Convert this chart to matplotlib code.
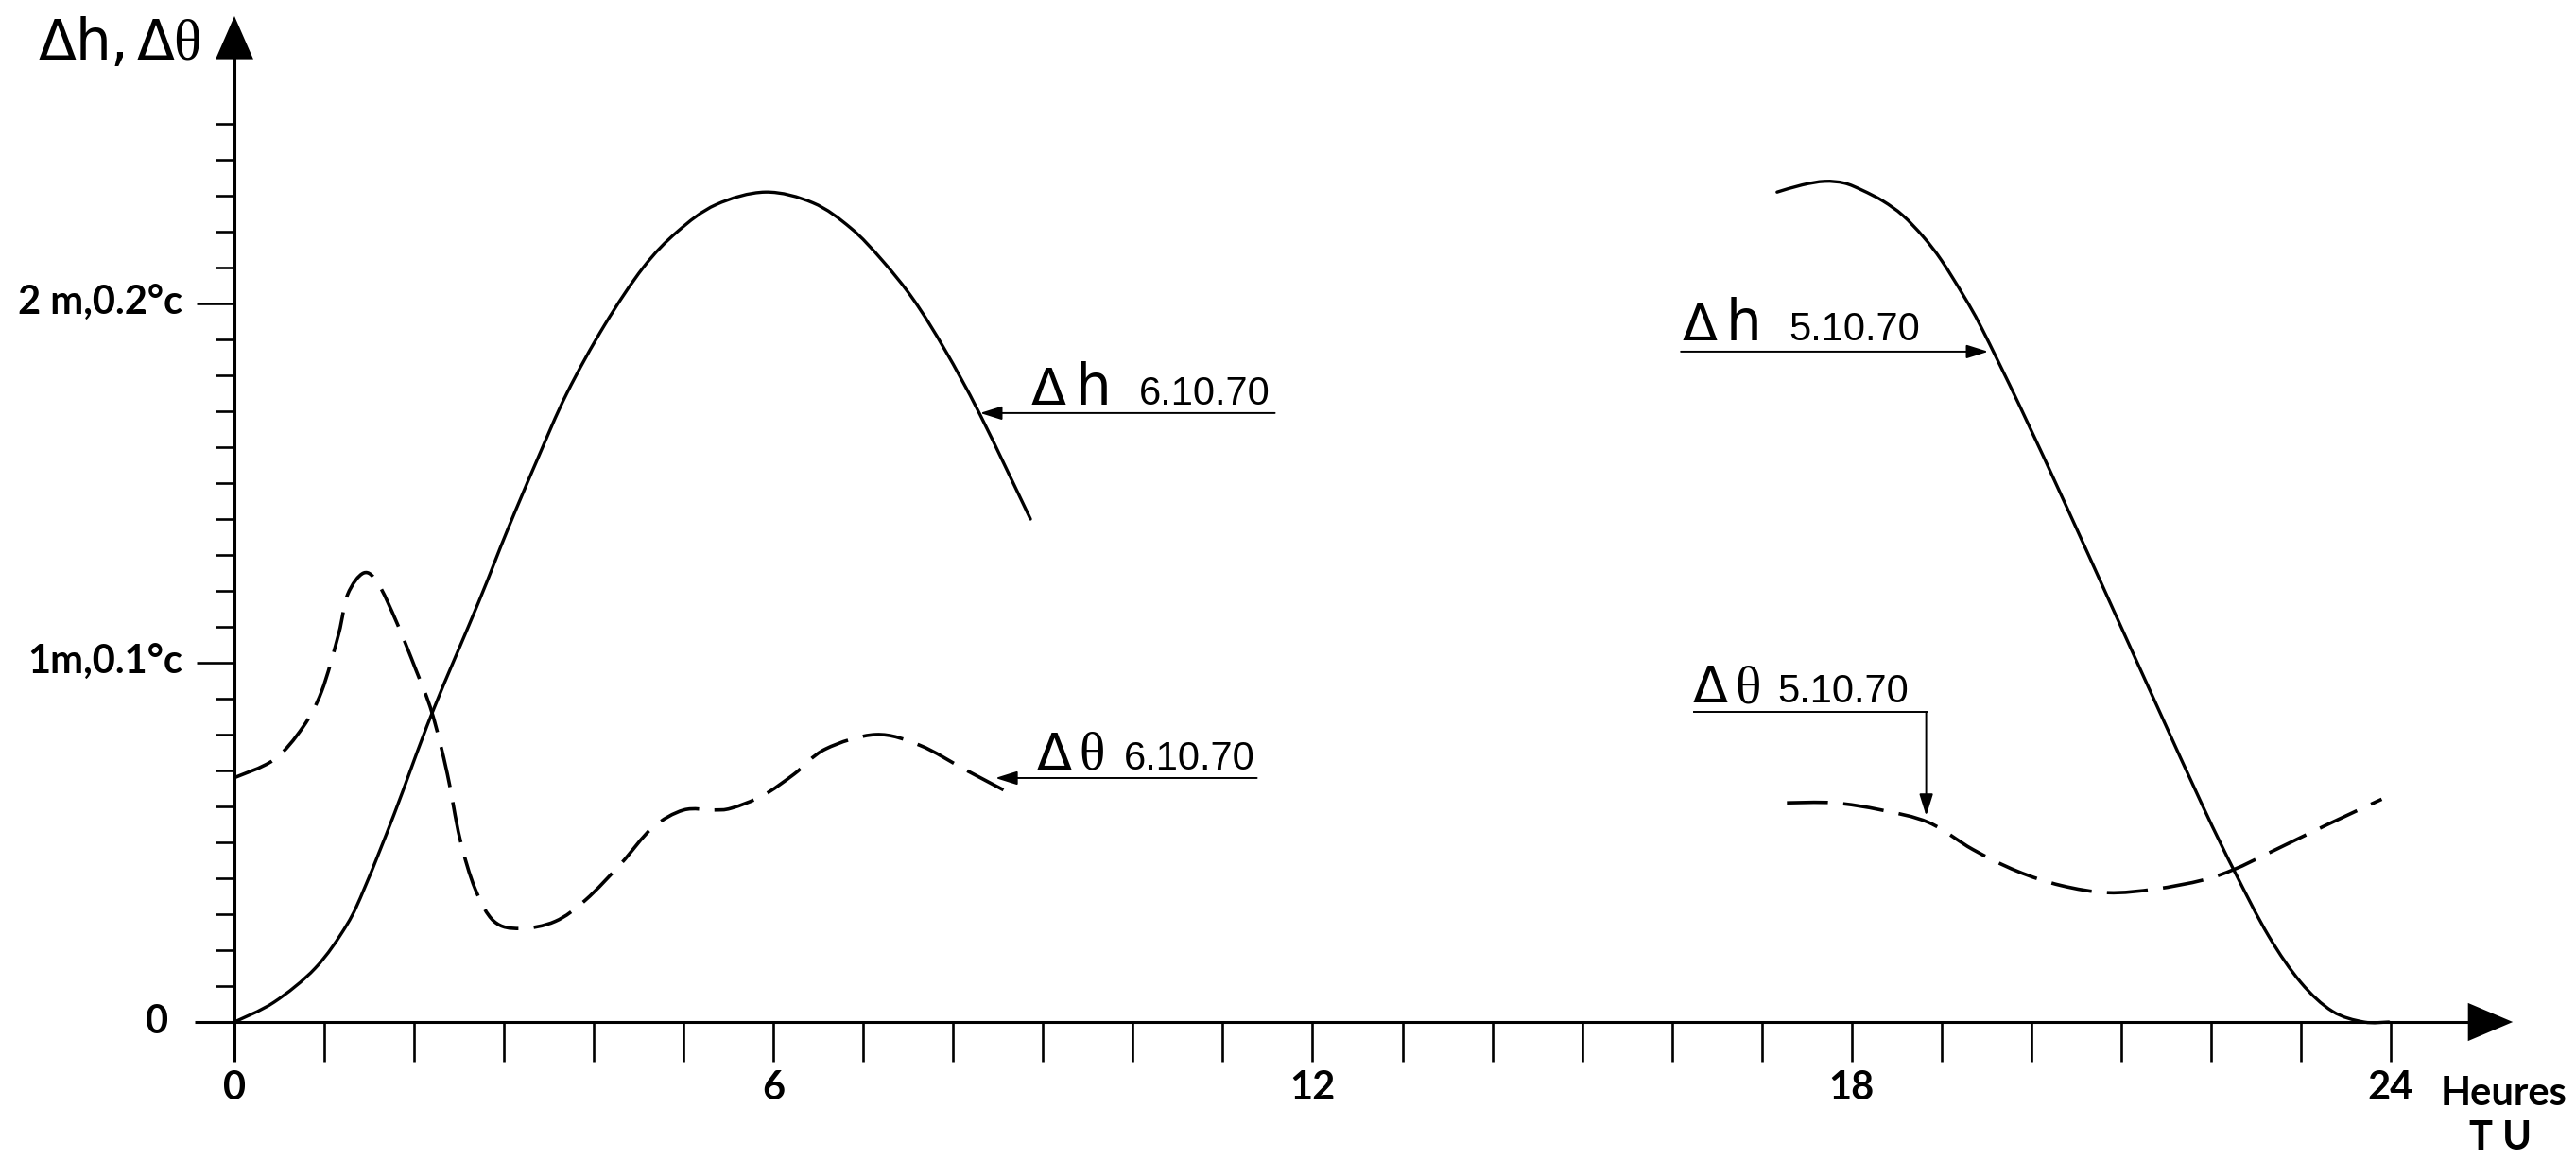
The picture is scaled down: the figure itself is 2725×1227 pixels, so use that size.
"""
Diurnal variation of water level (Δh) and temperature (Δθ), 5 and 6 Oct 1970.
Hours UT on x; one vertical unit = 1 m for Δh and 0.1 °C for Δθ.
"""
import numpy as np
import matplotlib.pyplot as plt
from matplotlib.path import Path
from matplotlib.patches import PathPatch

# ── data ──────────────────────────────────────────────────────────────────────
# Δh, 6.10.70
dh_0610_t = [0.0, 0.44, 0.90, 1.25, 1.46, 1.78, 2.20, 2.72, 3.04, 3.37, 3.70, 4.12,
             4.55, 4.93, 5.36, 5.91, 6.44, 6.86, 7.21, 7.56, 7.91, 8.30, 8.86]
dh_0610_v = [0.0, 0.055, 0.15, 0.27, 0.38, 0.58, 0.86, 1.17, 1.37, 1.565, 1.75, 1.94,
             2.10, 2.20, 2.275, 2.31, 2.28, 2.21, 2.12, 2.01, 1.87, 1.69, 1.40]

# Δθ, 6.10.70
dt_0610_t = [0.0, 0.44, 0.76, 0.97, 1.16, 1.26, 1.44, 1.60, 1.81, 2.02,
             2.20, 2.37, 2.51, 2.68, 2.89, 3.18, 3.57, 3.91, 4.30, 4.65, 5.00, 5.33,
             5.53, 5.88, 6.23, 6.58, 7.14, 7.63, 8.15, 8.68]
dt_0610_v = [0.68, 0.73, 0.82, 0.92, 1.08, 1.19, 1.25, 1.22, 1.11, 0.98,
             0.86, 0.69, 0.51, 0.37, 0.28, 0.26, 0.28, 0.34, 0.44, 0.54, 0.59, 0.59,
             0.595, 0.63, 0.69, 0.76, 0.80, 0.77, 0.70, 0.63]

# Δh, 5.10.70
dh_0510_t = [17.17, 17.45, 17.70, 17.92, 18.12, 18.35, 18.57, 18.80, 19.00, 19.25,
             19.45, 19.88, 20.40, 20.89, 21.38, 21.91, 22.26, 22.64, 23.00, 23.35,
             23.70, 23.98]
dh_0510_v = [2.31, 2.33, 2.34, 2.335, 2.315, 2.285, 2.245, 2.185, 2.12, 2.02,
             1.93, 1.71, 1.43, 1.16, 0.89, 0.60, 0.42, 0.24, 0.11, 0.03,
             0.0, 0.0]

# Δθ, 5.10.70
dt_0510_t = [17.28, 17.80, 18.33, 18.86, 19.35, 19.84, 20.33, 20.85, 21.38, 21.91,
             22.26, 22.64, 23.30, 23.90]
dt_0510_v = [0.61, 0.61, 0.59, 0.555, 0.48, 0.42, 0.38, 0.36, 0.37, 0.395,
             0.425, 0.47, 0.55, 0.62]

x_labels = ["0", "6", "12", "18", "24"]
x_label_pos = [0, 6, 12, 18, 24]
y_labels = ["0", "1m,0.1°c", "2 m,0.2°c"]

# ── page geometry ─────────────────────────────────────────────────────────────
W, H = 2725, 1227
PX_PER_H = 95.04
PX_PER_UNIT = 380.0
X0_PX, Y0_PX = 248, 1081

BOLD = "Lato"
SANS = "Liberation Sans"
SYM = "DejaVu Sans"
SERIF = "Liberation Serif"
K = "black"
AXIS_LW = 2.2
TICK_FS = 30


def smooth_path(xs, ys):
    """Catmull-Rom through the points, as cubic Bezier segments."""
    p = np.column_stack([xs, ys]).astype(float)
    # scale to pixel space so the tangents are isotropic
    s = np.array([PX_PER_H, PX_PER_UNIT])
    q = p * s
    ext = np.vstack([q[0], q, q[-1]])
    verts = [q[0]]
    codes = [Path.MOVETO]
    for i in range(1, len(ext) - 2):
        p0, p1, p2, p3 = ext[i - 1], ext[i], ext[i + 1], ext[i + 2]
        verts += [p1 + (p2 - p0) / 6, p2 - (p3 - p1) / 6, p2]
        codes += [Path.CURVE4] * 3
    return Path(np.array(verts) / s, codes)


def draw_curve(ax, xs, ys, dashed=False):
    patch = PathPatch(smooth_path(xs, ys), fill=False, edgecolor=K,
                      lw=2.6 if dashed else 2.4,
                      linestyle=(0, (12, 4.5)) if dashed else "-",
                      capstyle="butt" if dashed else "round", joinstyle="round")
    ax.add_patch(patch)


fig = plt.figure(figsize=(W / 100, H / 100), dpi=100)
fig.patch.set_facecolor("white")
ax = fig.add_axes([0, 0, 1, 1])
ax.set_xlim(-X0_PX / PX_PER_H, (W - X0_PX) / PX_PER_H)
ax.set_ylim(-(H - Y0_PX) / PX_PER_UNIT, Y0_PX / PX_PER_UNIT)
ax.axis("off")

# ── axes with arrow heads ─────────────────────────────────────────────────────
ax.plot([-0.44, 24.9], [0, 0], color=K, lw=AXIS_LW, solid_capstyle="butt")
ax.fill([24.86, 25.36, 24.86], [-0.053, 0, 0.053], color=K, lw=0)
ax.plot([0, 0], [-0.11, 2.69], color=K, lw=AXIS_LW, solid_capstyle="butt")
ax.fill([-0.21, 0, 0.21], [2.68, 2.80, 2.68], color=K, lw=0)

# hour ticks (downward)
for hr in range(1, 25):
    ax.plot([hr, hr], [0, -0.11], color=K, lw=1.9, solid_capstyle="butt")

# vertical ticks every 0.1, longer at whole units
for i in range(1, 26):
    v = i / 10
    length = 0.42 if i % 10 == 0 else 0.21
    ax.plot([-length, 0], [v, v], color=K, lw=1.9, solid_capstyle="butt")

# ── curves ────────────────────────────────────────────────────────────────────
draw_curve(ax, dh_0610_t, dh_0610_v)
draw_curve(ax, dt_0610_t, dt_0610_v, dashed=True)
draw_curve(ax, dh_0510_t, dh_0510_v)
draw_curve(ax, dt_0510_t, dt_0510_v, dashed=True)

# ── axis labels ───────────────────────────────────────────────────────────────
for lab, xp in zip(x_labels, x_label_pos):
    ax.text(xp, -0.185, lab, ha="center", va="center", fontsize=TICK_FS,
            family=BOLD, fontweight="bold")
ax.text(24.55, -0.20, "Heures", ha="left", va="center", fontsize=TICK_FS,
        family=BOLD, fontweight="bold")
ax.text(25.22, -0.325, "T U", ha="center", va="center", fontsize=TICK_FS,
        family=BOLD, fontweight="bold")

ax.text(-0.86, 0, y_labels[0], ha="center", va="center", fontsize=TICK_FS,
        family=BOLD, fontweight="bold")
ax.text(-0.58, 1, y_labels[1], ha="right", va="center", fontsize=TICK_FS,
        family=BOLD, fontweight="bold")
ax.text(-0.58, 2, y_labels[2], ha="right", va="center", fontsize=TICK_FS,
        family=BOLD, fontweight="bold")

# "Δh,Δθ" on the vertical axis
ax.text(-2.18, 2.679, "Δ", fontsize=42, family=SYM, va="baseline")
ax.text(-1.77, 2.679, "h,", fontsize=43, family=SYM, va="baseline")
ax.text(-1.09, 2.679, "Δ", fontsize=42, family=SYM, va="baseline")
ax.text(-0.68, 2.679, "θ", fontsize=44, family=SERIF, va="baseline")


# ── curve labels with leaders ─────────────────────────────────────────────────
def curve_label(x_delta, x_sym, x_date, base, sym, date):
    ax.text(x_delta, base, "Δ", fontsize=39, family=SYM, va="baseline")
    if sym == "h":
        ax.text(x_sym, base, "h", fontsize=43, family=SYM, va="baseline")
    else:
        ax.text(x_sym, base, "θ", fontsize=41, family=SERIF, va="baseline")
    ax.text(x_date, base, date, fontsize=30, family=SANS, va="baseline")


leader = dict(arrowstyle="-|>,head_length=0.7,head_width=0.22", color=K,
              lw=1.4, shrinkA=0, shrinkB=0, mutation_scale=20)

curve_label(8.87, 9.36, 10.07, 1.718, "h", "6.10.70")
ax.annotate("", xy=(8.30, 1.695), xytext=(11.58, 1.695), arrowprops=leader)

curve_label(8.93, 9.40, 9.90, 0.703, "θ", "6.10.70")
ax.annotate("", xy=(8.47, 0.679), xytext=(11.38, 0.679), arrowprops=leader)

curve_label(16.12, 16.60, 17.30, 1.897, "h", "5.10.70")
ax.annotate("", xy=(19.52, 1.866), xytext=(16.10, 1.866), arrowprops=leader)

curve_label(16.23, 16.70, 17.17, 0.889, "θ", "5.10.70")
ax.plot([16.25, 18.83], [0.863, 0.863], color=K, lw=1.4)
ax.annotate("", xy=(18.83, 0.574), xytext=(18.83, 0.863), arrowprops=leader)

fig.savefig("out.png", dpi=100, facecolor="white")
